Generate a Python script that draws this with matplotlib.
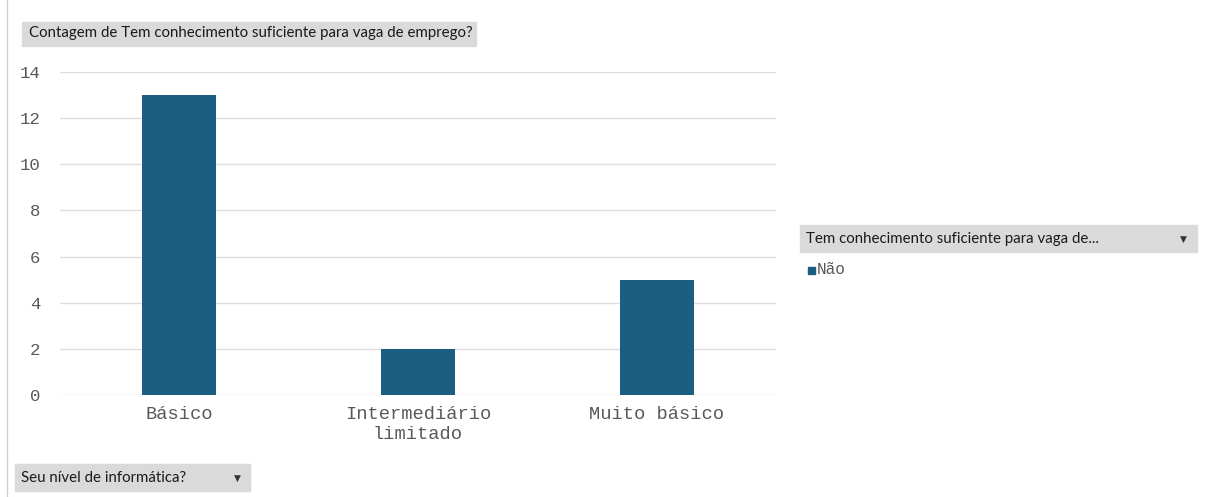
import matplotlib.pyplot as plt
from matplotlib.patches import Rectangle

categorias = ["Básico", "Intermediário\nlimitado", "Muito básico"]
contagem = [13, 2, 5]
yticks = [0, 2, 4, 6, 8, 10, 12, 14]

cor_barra = "#1b5e82"
cor_texto = "#595959"
cor_caixa = "#dadada"
mono = ["Liberation Mono", "DejaVu Sans Mono"]
sans = ["Lato", "DejaVu Sans"]

W, H = 1213, 497
fig = plt.figure(figsize=(W / 100, H / 100), dpi=100)
fig.patch.set_facecolor("white")


def px(x, y):
    # pixel coords (from top-left) -> figure fraction
    return x / W, 1 - y / H


ax = fig.add_axes([60 / W, 102 / H, 716 / W, 323 / H])
x = range(len(categorias))
ax.bar(x, contagem, width=0.31, color=cor_barra, zorder=3)
ax.set_xlim(-0.5, 2.5)
ax.set_ylim(0, 14)
ax.set_yticks(yticks)
ax.set_xticks(list(x))
ax.set_xticklabels(categorias, family=mono, fontsize=13.5, color=cor_texto,
                   linespacing=1.2)
ax.set_yticklabels([str(v) for v in yticks], family=mono, fontsize=12.5,
                   color=cor_texto)
ax.tick_params(length=0, axis="y", pad=14)
ax.tick_params(length=0, axis="x", pad=8)
ax.grid(axis="y", color="#dedede", linewidth=1, zorder=0)
for s in ax.spines.values():
    s.set_visible(False)

# borda esquerda
fig.add_artist(plt.Line2D([7 / W, 7 / W], [0, 1], color="#d0d0d0", lw=1))

# caixa do título
x0, y0 = px(22, 46)
fig.add_artist(Rectangle((x0, y0), (476 - 22) / W, 24 / H, color=cor_caixa,
                         transform=fig.transFigure))
fig.text(*px(29, 33.5), "Contagem de Tem conhecimento suficiente para vaga de emprego?",
         family=sans, fontsize=10.8, color="#1a1a1a", va="center", ha="left")

# legenda
x0, y0 = px(800, 252)
fig.add_artist(Rectangle((x0, y0), (1197 - 800) / W, 27 / H, color=cor_caixa,
                         transform=fig.transFigure))
fig.text(*px(806, 239), "Tem conhecimento suficiente para vaga de...",
         family=sans, fontsize=10.8, color="#1a1a1a", va="center", ha="left")
fig.text(*px(1183, 239), "▼", family=["DejaVu Sans"], fontsize=6.5,
         color="#333333", va="center", ha="center")
x0, y0 = px(808, 274)
fig.add_artist(Rectangle((x0, y0), 7 / W, 7 / H, color=cor_barra,
                         transform=fig.transFigure))
fig.text(*px(817, 270), "Não", family=mono, fontsize=11.5, color=cor_texto,
         va="center", ha="left")

# campo do eixo
x0, y0 = px(15, 491)
fig.add_artist(Rectangle((x0, y0), (250 - 15) / W, 27 / H, color=cor_caixa,
                         transform=fig.transFigure))
fig.text(*px(21, 478), "Seu nível de informática?",
         family=sans, fontsize=10.8, color="#1a1a1a", va="center", ha="left")
fig.text(*px(237, 478), "▼", family=["DejaVu Sans"], fontsize=6.5,
         color="#333333", va="center", ha="center")

fig.savefig("out.png", dpi=100)
